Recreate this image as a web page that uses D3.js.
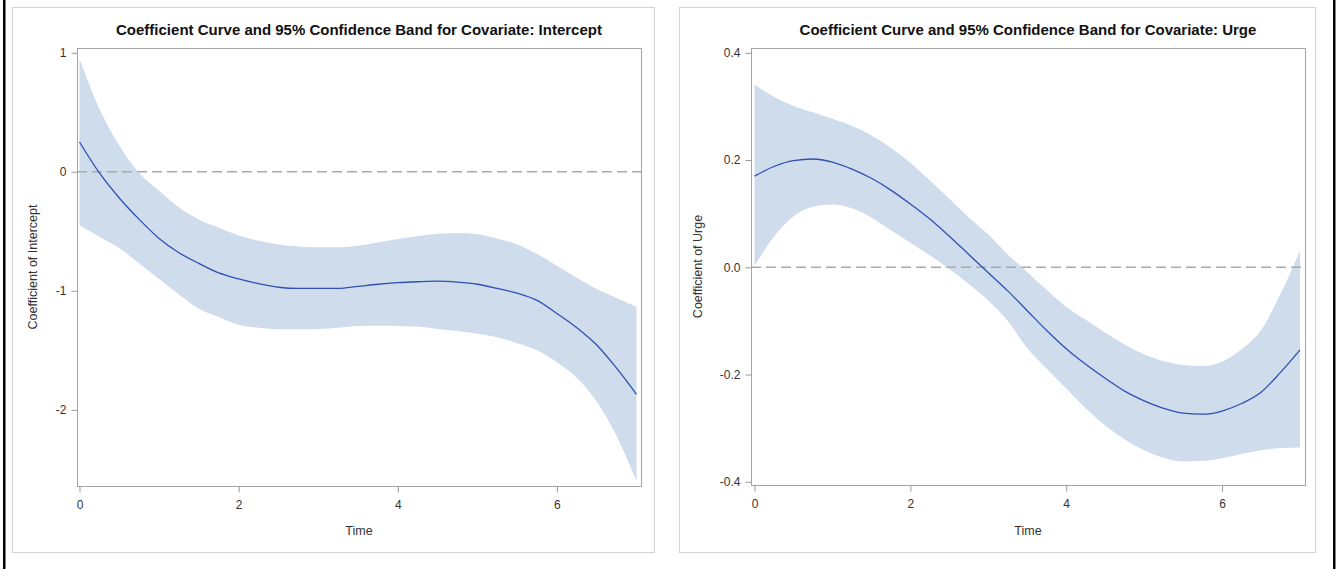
<!DOCTYPE html>
<html>
<head>
<meta charset="utf-8">
<script src="https://cdn.jsdelivr.net/npm/d3@7"></script>
<style>
  body { margin: 0; background: #fff; }
  svg { display: block; font-family: "Liberation Sans", Arial, sans-serif; }
  .tick text { fill: #333; font-size: 12px; }
  .tick line { stroke: #999; }
</style>
</head>
<body>
<div id="chart"></div>
<script>
// time grid shared by both covariates
var times = [0, 0.25, 0.5, 0.75, 1, 1.25, 1.5, 1.75, 2, 2.25, 2.5, 2.75, 3, 3.25, 3.5,
             3.75, 4, 4.25, 4.5, 4.75, 5, 5.25, 5.5, 5.75, 6, 6.25, 6.5, 6.75, 7];

// Intercept
var interceptEst   = [0.25, -0.01, -0.22, -0.40, -0.56, -0.68, -0.77, -0.85, -0.90, -0.94, -0.97, -0.98, -0.98, -0.98, -0.963,
                      -0.945, -0.932, -0.924, -0.919, -0.927, -0.945, -0.98, -1.02, -1.08, -1.19, -1.31, -1.455, -1.65, -1.87];
var interceptUpper = [0.95, 0.53, 0.22, -0.01, -0.16, -0.30, -0.40, -0.47, -0.535, -0.58, -0.61, -0.627, -0.635, -0.635, -0.622,
                      -0.595, -0.565, -0.54, -0.52, -0.515, -0.525, -0.56, -0.61, -0.69, -0.79, -0.89, -0.985, -1.06, -1.134];
var interceptLower = [-0.45, -0.545, -0.64, -0.77, -0.90, -1.03, -1.15, -1.22, -1.285, -1.31, -1.322, -1.322, -1.32, -1.31, -1.295,
                      -1.293, -1.295, -1.30, -1.32, -1.337, -1.36, -1.39, -1.44, -1.50, -1.60, -1.73, -1.93, -2.22, -2.60];

// Urge
var urgeEst   = [0.170, 0.188, 0.199, 0.202, 0.196, 0.183, 0.166, 0.144, 0.118, 0.090, 0.058, 0.024, -0.010, -0.044, -0.081,
                 -0.118, -0.152, -0.181, -0.207, -0.231, -0.249, -0.263, -0.272, -0.274, -0.268, -0.254, -0.233, -0.196, -0.154];
var urgeUpper = [0.341, 0.318, 0.301, 0.289, 0.277, 0.264, 0.246, 0.223, 0.195, 0.162, 0.128, 0.093, 0.061, 0.024, -0.009,
                 -0.042, -0.074, -0.098, -0.122, -0.144, -0.162, -0.175, -0.182, -0.184, -0.176, -0.153, -0.117, -0.050, 0.031];
var urgeLower = [0.002, 0.057, 0.095, 0.113, 0.117, 0.110, 0.093, 0.069, 0.046, 0.022, -0.003, -0.031, -0.062, -0.100, -0.151,
                 -0.189, -0.226, -0.263, -0.295, -0.321, -0.341, -0.355, -0.362, -0.361, -0.356, -0.348, -0.341, -0.337, -0.336];

var xTicks = [0, 2, 4, 6];
var interceptTicks = [1, 0, -1, -2];
var urgeTicks = [0.4, 0.2, 0.0, -0.2, -0.4];

var W = 1338, H = 569;
var svg = d3.select("#chart").append("svg").attr("width", W).attr("height", H);

svg.append("rect").attr("width", W).attr("height", H).attr("fill", "#fff");
// page edges
svg.append("rect").attr("x", 3).attr("y", 0).attr("width", 2.5).attr("height", H).attr("fill", "#000");
svg.append("rect").attr("x", 1333).attr("y", 0).attr("width", 2.5).attr("height", H).attr("fill", "#000");

// plain hyphen instead of the unicode minus d3 uses
function hyphen(fmt) {
    return function(d) { return fmt(d).replace("\u2212", "-"); };
}

function drawPanel(opt) {
    var g = svg.append("g");

    // outer panel border
    g.append("rect")
        .attr("x", opt.panel[0] + 0.5).attr("y", 7.5)
        .attr("width", opt.panel[1] - opt.panel[0]).attr("height", 545)
        .attr("fill", "none").attr("stroke", "#d3d3d3");

    var x = d3.scaleLinear().domain([0, 7]).range(opt.xr);
    var y = d3.scaleLinear().domain(opt.yd).range([opt.bottom, 48]);

    var rows = times.map(function(t, i) {
        return { t: t, est: opt.est[i], up: opt.upper[i], lo: opt.lower[i] };
    });

    var area = d3.area()
        .x(function(d) { return x(d.t); })
        .y0(function(d) { return y(d.lo); })
        .y1(function(d) { return y(d.up); })
        .curve(d3.curveMonotoneX);

    g.append("path").datum(rows).attr("d", area).attr("fill", "#cedcec");

    // reference line at zero
    g.append("line")
        .attr("x1", opt.frame[0]).attr("x2", opt.frame[1])
        .attr("y1", y(0)).attr("y2", y(0))
        .attr("stroke", "#a9a9a9").attr("stroke-width", 1.5)
        .attr("stroke-dasharray", "10,5");

    var line = d3.line()
        .x(function(d) { return x(d.t); })
        .y(function(d) { return y(d.est); })
        .curve(d3.curveMonotoneX);

    g.append("path").datum(rows).attr("d", line)
        .attr("fill", "none").attr("stroke", "#2f50b4").attr("stroke-width", 1.3);

    // plot frame
    g.append("rect")
        .attr("x", opt.frame[0] + 0.5).attr("y", 48.5)
        .attr("width", opt.frame[1] - opt.frame[0]).attr("height", opt.bottom - 48)
        .attr("fill", "none").attr("stroke", "#a5a5a5");

    var xAxis = d3.axisBottom(x).tickValues(xTicks).tickSize(6).tickPadding(8)
        .tickFormat(d3.format("d"));
    g.append("g").attr("transform", "translate(0," + (opt.bottom + 0.5) + ")").call(xAxis)
        .call(function(s) { s.select(".domain").remove(); });

    var yAxis = d3.axisLeft(y).tickValues(opt.yTicks).tickSize(6).tickPadding(5)
        .tickFormat(hyphen(opt.yFmt));
    g.append("g").attr("transform", "translate(" + (opt.frame[0] + 0.5) + ",0)").call(yAxis)
        .call(function(s) { s.select(".domain").remove(); });

    var cx = (opt.frame[0] + opt.frame[1]) / 2;
    g.append("text")
        .attr("x", cx).attr("y", 535)
        .attr("text-anchor", "middle").attr("font-size", 12.5).attr("fill", "#333")
        .text("Time");

    g.append("text")
        .attr("transform", "translate(" + opt.yTitleX + "," + ((48 + opt.bottom) / 2) + ")rotate(-90)")
        .attr("text-anchor", "middle").attr("font-size", 12.5).attr("fill", "#333")
        .text(opt.yTitle);

    g.append("text")
        .attr("x", cx).attr("y", 35)
        .attr("text-anchor", "middle").attr("font-size", 15).attr("font-weight", "bold")
        .attr("fill", "#111")
        .text(opt.title);
}

drawPanel({
    panel: [12, 654],
    frame: [77, 641],
    xr: [79.5, 636.5],
    bottom: 486,
    yd: [-2.64, 1.04],
    yTicks: interceptTicks,
    yFmt: d3.format("d"),
    est: interceptEst, upper: interceptUpper, lower: interceptLower,
    yTitle: "Coefficient of Intercept",
    yTitleX: 37,
    title: "Coefficient Curve and 95% Confidence Band for Covariate: Intercept"
});

drawPanel({
    panel: [679, 1315],
    frame: [751, 1305],
    xr: [754.5, 1300],
    bottom: 485,
    yd: [-0.406, 0.409],
    yTicks: urgeTicks,
    yFmt: d3.format(".1f"),
    est: urgeEst, upper: urgeUpper, lower: urgeLower,
    yTitle: "Coefficient of Urge",
    yTitleX: 702,
    title: "Coefficient Curve and 95% Confidence Band for Covariate: Urge"
});
</script>
</body>
</html>
